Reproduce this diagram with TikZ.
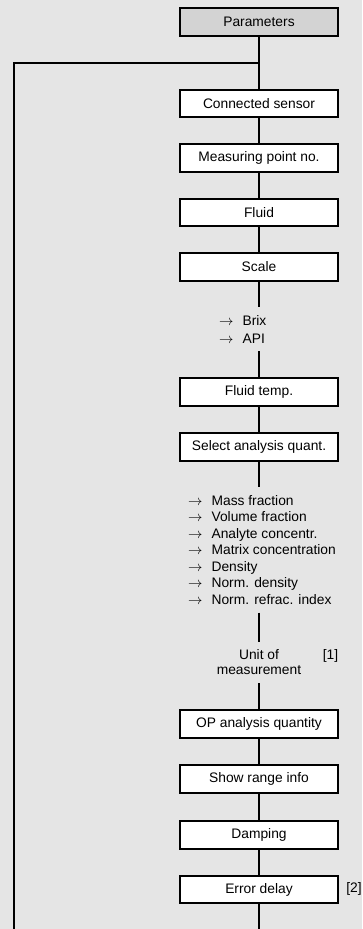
\documentclass[tikz,border=0pt]{standalone}
\usepackage{fontspec}
\setmainfont{Liberation Sans}
\definecolor{bggray}{RGB}{229,229,229}
\definecolor{titlegray}{RGB}{211,211,211}
\begin{document}
\begin{tikzpicture}[
        x=1pt, y=-1pt,
        menu/.style={rectangle, draw, line width=1.8pt, fill=white, minimum width=158pt, minimum height=27.5pt, inner sep=0pt},
        title/.style={menu, fill=titlegray},
        link/.style={line width=1.9pt},
        choice/.style={align=left, inner xsep=0pt, inner ysep=8pt, anchor=north west},
        every node/.style={font=\fontsize{13.8}{16.5}\selectfont}
        ]
      \fill[bggray] (0,0) rectangle (362,929);
      \useasboundingbox (0,0) rectangle (362,929);
      \node[title] (params) at (259,22) {Parameters};
      \coordinate (loop) at (259,63);
      \coordinate (loopleft) at (14,63);
      \node[menu] (sensor) at (259,103.5) {Connected sensor};
      \node[menu] (point) at (259,158) {Measuring point no.};
      \node[menu] (fluid) at (259,212.5) {Fluid};
      \node[menu] (scale) at (259,267) {Scale};
      \node[choice, font=\fontsize{13.8}{18}\selectfont] (scalelist) at (219,307) {\(\rightarrow\)\hspace{9pt}Brix\\\(\rightarrow\)\hspace{9pt}API};
      \node[menu] (ftemp) at (259,392) {Fluid temp.};
      \node[menu] (quant) at (259,447) {Select analysis quant.};
      \node[choice] (quantlist) at (188,487) {\(\rightarrow\)\hspace{9pt}Mass fraction\\\(\rightarrow\)\hspace{9pt}Volume fraction\\\(\rightarrow\)\hspace{9pt}Analyte concentr.\\\(\rightarrow\)\hspace{9pt}Matrix concentration\\\(\rightarrow\)\hspace{9pt}Density\\\(\rightarrow\)\hspace{9pt}Norm. density\\\(\rightarrow\)\hspace{9pt}Norm. refrac. index};
      \node[align=center, inner ysep=8pt, font=\fontsize{13.8}{15}\selectfont] (unit) at (259,662.5) {Unit of\\measurement};
      \node (note1) at (330.5,656) {[1]};
      \node[menu] (opquant) at (259,724) {OP analysis quantity};
      \node[menu] (range) at (259,779) {Show range info};
      \node[menu] (damping) at (259,835) {Damping};
      \node[menu] (errdelay) at (259,889.5) {Error delay};
      \node (note2) at (354,889) {[2]};
      \coordinate (mainend) at (259,929);
      \coordinate (leftend) at (14,929);
      \draw[link] (params) -- (loop) -- (sensor);
      \draw[link] (loop) -- (loopleft) -- (leftend);
      \draw[link] (sensor) -- (point);
      \draw[link] (point) -- (fluid);
      \draw[link] (fluid) -- (scale);
      \draw[link] (scale) -- (scale |- scalelist.north);
      \draw[link] (scale |- scalelist.south) -- (ftemp);
      \draw[link] (ftemp) -- (quant);
      \draw[link] (quant) -- (quant |- quantlist.north);
      \draw[link] (quant |- quantlist.south) -- (unit);
      \draw[link] (unit) -- (opquant);
      \draw[link] (opquant) -- (range);
      \draw[link] (range) -- (damping);
      \draw[link] (damping) -- (errdelay);
      \draw[link] (errdelay) -- (mainend);
    \end{tikzpicture}
\end{document}
